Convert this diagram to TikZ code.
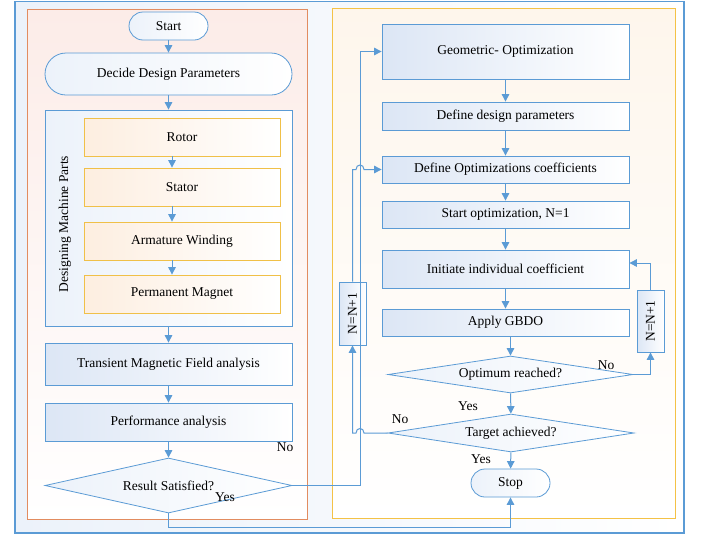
\documentclass[tikz,border=0pt]{standalone}
\usepackage{fontspec}
\usepackage{graphicx}
\setmainfont{Liberation Serif}
\usetikzlibrary{shapes.geometric,arrows.meta,calc}
\definecolor{lb}{RGB}{91,155,213}
\definecolor{orf}{RGB}{226,140,96}
\definecolor{yef}{RGB}{244,194,70}
\definecolor{gold}{RGB}{240,192,72}
\definecolor{bfill}{RGB}{220,230,245}
\definecolor{bfill2}{RGB}{236,242,250}
\definecolor{ofill}{RGB}{253,238,224}
\definecolor{pinkbg}{RGB}{252,236,232}
\definecolor{yelbg}{RGB}{254,246,236}
\begin{document}
\begin{tikzpicture}[x=1pt,y=-1pt,font=\fontsize{13.5}{16}\selectfont,
  bx/.style={draw=lb,line width=0.8pt,left color=bfill,right color=white,inner sep=0pt,align=center},
  stad/.style={bx,left color=bfill2},
  obx/.style={draw=gold,line width=0.8pt,left color=ofill,right color=white,inner sep=0pt,minimum width=196pt,minimum height=38pt},
  dia/.style={diamond,draw=lb,line width=0.8pt,left color=bfill2,right color=white,inner sep=0pt,aspect=5},
  arr/.style={draw=lb,line width=1pt,-{Triangle[length=7.5pt,width=7.5pt]}},
  lbl/.style={inner sep=0pt}]
\useasboundingbox (0,0) rectangle (706,536);
% frames
\draw[lb,line width=1.2pt,left color=bfill2,right color=white] (15,1.5) rectangle (684,533);
\draw[orf,line width=1pt,top color=pinkbg,bottom color=white] (27,9) rectangle (307,519);
\draw[yef,line width=1pt,top color=yelbg,bottom color=white] (332,8) rectangle (675,518);
% left column
\node[stad,rounded corners=14pt,minimum width=79pt,minimum height=28pt] (start) at (168.5,26) {Start};
\node[stad,rounded corners=21pt,minimum width=247pt,minimum height=42pt] (decide) at (168.5,74) {Decide Design Parameters};
\node[bx,left color=bfill2,minimum width=247pt,minimum height=216pt] (dmp) at (168.5,218) {};
\node[lbl,rotate=90] (dmplbl) at (65,224) {Designing Machine Parts};
\node[obx] (rotor) at (182,137) {Rotor};
\node[obx] (stator) at (182,187) {Stator};
\node[obx] (arm) at (182,241) {Armature Winding};
\node[obx] (pm) at (182,294) {Permanent Magnet};
\node[bx,minimum width=247pt,minimum height=42pt] (trans) at (168.5,364) {Transient Magnetic Field analysis};
\node[bx,minimum width=247pt,minimum height=38pt] (perf) at (168.5,422) {Performance analysis};
\node[dia,minimum width=247pt,minimum height=55pt] (result) at (168.5,485.5) {Result Satisfied?};
% right column
\node[bx,minimum width=247pt,minimum height=55pt] (geo) at (505.5,51.5) {Geometric- Optimization};
\node[bx,minimum width=247pt,minimum height=28pt] (ddp) at (505.5,116) {Define design parameters};
\node[bx,minimum width=247pt,minimum height=27pt] (doc) at (505.5,169.5) {Define Optimizations coefficients};
\node[bx,minimum width=247pt,minimum height=27pt] (so) at (505.5,214.5) {Start optimization, N=1};
\node[bx,minimum width=247pt,minimum height=38pt] (iic) at (505.5,269) {Initiate individual coefficient};
\node[bx,minimum width=247pt,minimum height=27pt] (gbdo) at (505.5,322.5) {Apply GBDO};
\node[dia,minimum width=245pt,minimum height=37pt] (opt) at (510.5,374.5) {Optimum reached?};
\node[dia,minimum width=246pt,minimum height=38pt] (tgt) at (511,433) {Target achieved?};
\node[stad,rounded corners=14pt,minimum width=79pt,minimum height=28pt] (stop) at (510.5,483) {Stop};
\node[bx,minimum width=27pt,minimum height=63pt] (nl) at (352.5,313.5) {\rotatebox{90}{N=N+1}};
\node[bx,minimum width=27pt,minimum height=62pt] (nr) at (650.5,321) {\rotatebox{90}{N=N+1}};
% labels
\node[lbl] (no1) at (285,447) {No};
\node[lbl] (yes1) at (225,497) {Yes};
\node[lbl] (no2) at (606,365) {No};
\node[lbl] (yes2) at (468,406) {Yes};
\node[lbl] (no3) at (400,419) {No};
\node[lbl] (yes3) at (481,459) {Yes};
\coordinate (jx) at (360,0);
% left connectors
\draw[arr] (start) -- (decide);
\draw[arr] (decide) -- (dmp);
\draw[arr] ([xshift=-10pt]rotor.south) -- ([xshift=-10pt]stator.north);
\draw[arr] ([xshift=-10pt]stator.south) -- ([xshift=-10pt]arm.north);
\draw[arr] ([xshift=-10pt]arm.south) -- ([xshift=-10pt]pm.north);
\draw[arr] (dmp) -- (trans);
\draw[arr] (trans) -- (perf);
\draw[arr] (perf) -- (result);
% result -> geo, result -> stop
\draw[arr] (result.east) -- (result.east -| jx) -- (jx |- geo.west) -- (geo.west);
\draw[arr] (result.south) -- ++(0,14) -| (stop.south);
% right connectors
\draw[arr] (geo) -- (ddp);
\draw[arr] (ddp) -- (doc);
\draw[arr] (doc) -- (so);
\draw[arr] (so) -- (iic);
\draw[arr] (iic) -- (gbdo);
\draw[arr] (gbdo.south -| opt.north) -- (opt.north);
\draw[arr] (opt) -- (tgt);
\draw[arr] (tgt) -- (stop);
\draw[arr] (opt.east) -| (nr.south);
\draw[arr] (nr.north) |- ([yshift=6pt]iic.east);
\draw[arr] (tgt.west) -- ($(tgt.west -| jx)+(4,0)$) .. controls +(0,-6) and +(0,-6) .. ($(tgt.west -| jx)+(-4,0)$) -- (tgt.west -| nl.south) -- (nl.south);
\draw[arr] (nl.north) -- (nl.north |- doc.west) -- ($(doc.west -| jx)+(-4,0)$) .. controls +(0,-6) and +(0,-6) .. ($(doc.west -| jx)+(4,0)$) -- (doc.west);
\end{tikzpicture}
\end{document}
